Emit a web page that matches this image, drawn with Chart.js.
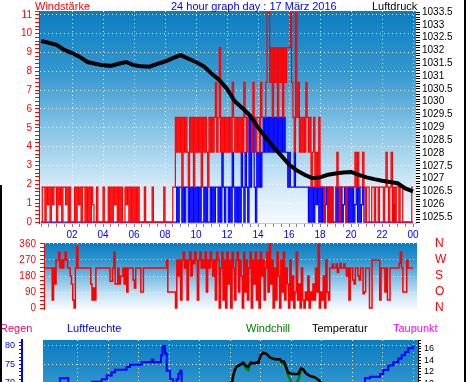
<!DOCTYPE html>
<html>
<head>
<meta charset="utf-8">
<title>24 hour graph 17 März 2016</title>
<script src="https://cdn.jsdelivr.net/npm/chart.js@4.4.0/dist/chart.umd.min.js"></script>
<style>
  html, body { margin: 0; padding: 0; background: #fff; overflow: hidden; }
  body { width: 470px; height: 382px; position: relative; font-family: "Liberation Sans", Arial, sans-serif; }
  canvas { position: absolute; left: 0; }
  .lbl { position: absolute; font-size: 11px; line-height: 11px; white-space: nowrap; z-index: 2; }
  .frame { position: absolute; background: #000; z-index: 3; }
</style>
</head>
<body>
<div class="lbl" style="left:35px;top:1px;color:#ff0000">Windstärke</div>
<div class="lbl" style="left:171px;top:1px;color:#0000ff">24 hour graph day : 17 März 2016</div>
<div class="lbl" style="left:372px;top:1px;color:#000">Luftdruck</div>

<div class="lbl" style="left:0;top:323px;color:#ff0066">Regen</div>
<div class="lbl" style="left:67px;top:323px;color:#0000ff">Luftfeuchte</div>
<div class="lbl" style="left:246px;top:323px;color:#008000">Windchill</div>
<div class="lbl" style="left:312px;top:323px;color:#000">Temperatur</div>
<div class="lbl" style="left:393px;top:323px;color:#ff00ff">Taupunkt</div>

<div class="frame" style="left:464px;top:0;width:2px;height:382px"></div>
<div class="frame" style="left:0;top:185px;width:2px;height:197px"></div>

<canvas id="windChart" width="470" height="245" style="top:0"></canvas>
<canvas id="dirChart" width="470" height="80" style="top:238px"></canvas>
<canvas id="climaChart" width="470" height="200" style="top:318px"></canvas>

<script>
// 5 minute samples, 12 per hour, wind in knots
const gustKnots = [
  0,1,1,0,1,0.5,1,0,1,0.5,1,1,
  0,1,0.5,1,0,1,1,0.5,1,0,1,0,
  0,0,1,0,1,0.5,1,0,1,1,0,1,
  0,1,0,1,0.5,0,0,1,0,0,0,0,
  1,0,0,0,1,0,1,0,1,0.5,1,0,
  1,0,1,0,0,1,0.5,1,0,1,0,1,
  0,1,0,1,0,0,0,0,1,0,0,0,
  0,0,1,0,0,0,0,0,0,0,0,1,
  0,0,0,0,0,0,1,1,3,2,3,2,
  3,1,3,2,3,2,1,3,2,3,1,3,
  2,3,2,3,1,3,2,3,2,1,3,2,
  3,2,3,4,2,3,5,2,3,2,3,2,
  3,2,3,2,4,3,2,3,2,3,2,3,
  2,4,3,2,3,3,3,2,4,3,2,3,
  3,2,4,3,3,3,4,6,6,4,5,3,
  5,4,5,3,5,4,5,3,5,4,5,5,
  5,6,4,3,2,6,3,4,2,3,2,3,
  2,4,3,2,3,1,2,3,1,2,1,3,
  1,1,1,0,1,1,0,1,0,1,0,0,
  1,2,1,0,1,1,1,1,0,1,1,1,
  1,1,1,2,1,2,1,1,1,2,1,0,
  1,1,0,0,1,1,0,1,1,0,1,1,
  1,0,1,2,1,0,1,2,0,1,0,1,
  1,0,1,1,0,0,0,0,0,0,0,1
];

const avgKnots = [
  0,0,0,0,0,0,0,0,0,0,0,0,
  0,0,0,0,0,0,0,0,0,0,0,0,
  0,0,0,0,0,0,0,0,0,0,0,0,
  0,0,0,0,0,0,0,0,0,0,0,0,
  0,0,0,0,0,0,0,0,0,0,0,0,
  0,0,0,0,0,0,0,0,0,0,0,0,
  0,0,0,0,0,0,0,0,0,0,0,0,
  0,0,0,0,0,0,0,0,0,0,0,0,
  0,0,0,0,0,0,0,0,0,1,0,1,
  1,0,1,0,1,1,0,1,0,1,0,1,
  0,1,0,1,0,0,1,0,1,0,0,1,
  0,1,0,1,1,0,1,0,2,1,0,1,
  1,0,1,0,2,1,0,1,0,1,0,2,
  1,0,2,1,0,3,1,2,3,1,0,2,
  1,2,1,2,3,2,3,2,3,2,3,2,
  3,2,3,2,3,2,3,2,3,2,2,1,
  2,1,1,1,2,1,1,1,1,1,1,1,
  1,1,1,0,1,0,1,0,1,0.5,1,0,
  1,0,1,0,0.5,1,0,1,0,1,0,0,
  1,0,1,0,1,0,0.5,1,0,1,0,1,
  0,1,0,0.5,1,0,1,0,0.5,1,0,0,
  0,0,0,0,0,0,0,0,0,0,0,0,
  0,0,0,0,0,0,0,0,0,0.5,0,0,
  0,0,0,0,0,0,0,0,0,0,0,0
];

// wind direction in degrees, same 5 minute samples
const dirDegrees = [
  225,225,225,225,225,225,225,45,225,135,270,270,
  315,225,270,225,270,315,270,225,225,180,135,45,
  0,225,345,225,225,225,225,225,225,225,225,225,
  225,135,45,112,45,225,225,225,225,225,225,225,
  225,225,225,225,150,150,225,315,135,135,225,135,
  180,180,225,135,225,90,225,225,225,225,157,112,
  225,225,225,225,90,90,225,225,225,225,225,225,
  225,225,225,225,225,225,225,225,225,225,225,225,
  270,90,90,90,90,90,90,0,270,180,270,45,
  270,315,225,270,45,270,315,180,270,250,315,270,
  45,270,315,225,270,225,315,90,270,225,315,270,
  180,270,45,315,270,0,225,315,45,270,0,315,
  135,270,0,315,225,45,270,315,90,270,180,0,
  315,90,270,45,225,315,0,270,135,315,45,270,
  0,315,180,270,45,225,315,90,360,135,270,0,
  225,45,315,180,0,270,90,315,45,225,135,0,
  270,45,180,0,90,315,45,135,0,225,45,0,
  90,45,180,0,90,45,135,45,225,90,360,0,
  90,45,180,0,270,90,45,225,225,247,225,225,
  247,200,225,250,225,225,247,225,180,225,45,225,
  225,157,135,225,225,180,157,225,225,80,90,225,
  225,225,0,0,270,270,270,270,270,270,45,225,
  225,225,90,225,45,45,225,225,225,225,225,225,
  225,250,315,225,90,90,90,270,225,225,225,225
];

// air pressure every half hour, hPa
const pressureHpa = [
  1032.37, 1032.30, 1032.22, 1032.02, 1031.90, 1031.75, 1031.55, 1031.48,
  1031.42, 1031.40, 1031.48, 1031.55, 1031.42, 1031.38, 1031.37, 1031.48,
  1031.57, 1031.70, 1031.82, 1031.68, 1031.55, 1031.38, 1031.10, 1030.85,
  1030.50, 1030.02, 1029.75, 1029.45, 1029.00, 1028.60, 1028.23, 1027.90,
  1027.55, 1027.32, 1027.15, 1027.02, 1027.05, 1027.15, 1027.20, 1027.24,
  1027.26, 1027.15, 1027.05, 1026.98, 1026.92, 1026.87, 1026.82, 1026.62,
  1026.50
];

// lower panel, hour of day and value
const humidityHours = [0, 0.83, 1.38, 2.95, 3.57, 3.9, 4.22, 4.44, 5.2, 5.42, 6.19, 6.85, 6.95, 7.46, 7.55,
  7.6, 7.72, 7.83, 8.05, 8.26, 8.48, 8.6, 8.7, 8.81, 10, 14, 18, 20.5, 20.83, 21.16, 21.82, 22.03,
  22.36, 22.69, 23.02, 23.24, 23.46, 23.67, 24];
const humidity = [66, 71.3, 67, 70.3, 71, 72, 72.9, 73.6, 74.3, 74.9, 75.6, 76.3, 75.6, 77.5, 79.4,
  80, 78, 73.3, 71, 68, 71, 72.5, 73.3, 69, 66, 60, 62, 68, 71.3, 71.7, 72.4, 73.5,
  74.7, 75.6, 76.6, 77.5, 78.4, 79.4, 80.3];

const tempHours = [0, 6, 11, 12.13, 12.2, 12.3, 12.42, 12.64, 12.85, 13.03, 13.18, 13.34, 13.5, 13.84,
  14.0, 14.16, 14.39, 14.6, 14.93, 15.26, 15.37, 15.52, 15.65, 15.8, 16.13, 16.46, 16.64, 16.79,
  16.96, 17.22, 17.55, 17.84, 17.99, 20, 24];
const temperature = [6, 4.5, 9, 10.2, 11.4, 12.3, 12.9, 13.2, 13.6, 13.0, 12.9, 13.6, 13.5, 13.6,
  14.9, 15.35, 15.1, 14.5, 14.2, 14.2, 13.8, 13.8, 12.9, 11.8, 11.6, 11.6, 12.6, 12.4,
  11.7, 11.25, 11.0, 10.4, 10.0, 8, 6];
const windchill = [6, 4.5, 9, 10.2, 11.4, 12.3, 12.9, 13.2, 13.6, 12.6, 12.3, 13.6, 13.5, 13.6,
  14.9, 15.35, 15.1, 14.5, 14.2, 14.2, 13.5, 13.4, 12.9, 11.3, 9.4, 10.5, 12.3, 12.4,
  11.7, 11.25, 11.0, 10.4, 10.0, 8, 6];

const hourTicks = ['02', '04', '06', '08', '10', '12', '14', '16', '18', '20', '22', '00'];
const compassTicks = { 0: 'N', 90: 'O', 180: 'S', 270: 'W', 360: 'N' };

const KMH_PER_KNOT = 1.852;
const SAMPLE_HOURS = 5 / 60;
const FONT = '"Liberation Sans", Arial, sans-serif';
const GRID_DOTS = 'rgba(255,255,255,0.85)';

// true when v is (almost) a multiple of m
const isMult = (v, m) => Math.abs(v / m - Math.round(v / m)) < 1e-6;

// sample-and-hold points, the last value is held to midnight
function stepPoints(values, scale) {
  const pts = values.map((v, i) => ({ x: i * SAMPLE_HOURS, y: v * scale }));
  pts.push({ x: 24, y: values[values.length - 1] * scale });
  return pts;
}

const pairs = (xs, ys) => xs.map((x, i) => ({ x: x, y: ys[i] }));

// fixed axis sizes, so the plot areas sit where the original ones do
const fixWidth = w => s => { s.width = w; s.paddingTop = 0; s.paddingBottom = 0; };
const fixHeight = h => s => { s.height = h; s.paddingLeft = 0; s.paddingRight = 0; };

// gradient behind each plot area
const panelBackground = {
  id: 'panelBackground',
  beforeDraw(chart) {
    const { ctx, chartArea: a } = chart;
    const g = ctx.createLinearGradient(0, a.top, 0, a.bottom);
    g.addColorStop(0, '#0a7dc1');
    g.addColorStop(0.3, '#3799d0');
    g.addColorStop(0.55, '#84c3e5');
    g.addColorStop(0.8, '#cde6f6');
    g.addColorStop(1, '#f6fafe');
    ctx.save();
    ctx.fillStyle = g;
    ctx.fillRect(a.left, a.top, a.right - a.left, a.bottom - a.top);
    ctx.restore();
  }
};

Chart.defaults.font.family = FONT;
Chart.defaults.animation = false;
Chart.defaults.responsive = false;
Chart.defaults.plugins.legend.display = false;
Chart.defaults.plugins.tooltip.enabled = false;

// ---- wind and pressure ----
new Chart(document.getElementById('windChart'), {
  type: 'line',
  data: {
    datasets: [{
      data: pairs(pressureHpa.map((_, i) => i * 0.5), pressureHpa),
      yAxisID: 'yP',
      borderColor: '#000',
      borderWidth: 4,
      pointRadius: 0
    }, {
      data: stepPoints(gustKnots, KMH_PER_KNOT),
      borderColor: '#ff0000',
      borderWidth: 1.2,
      stepped: true,
      pointRadius: 0
    }, {
      data: stepPoints(avgKnots, KMH_PER_KNOT),
      borderColor: '#0000ff',
      borderWidth: 1.2,
      stepped: true,
      pointRadius: 0
    }]
  },
  options: {
    layout: { padding: { top: 11 } },
    scales: {
      x: {
        type: 'linear', min: -0.13, max: 24.19,
        afterFit: fixHeight(22),
        ticks: {
          stepSize: 0.5, autoSkip: false, maxRotation: 0, includeBounds: false,
          color: '#0000ff', font: { size: 10 }, padding: 2,
          callback: v => (isMult(v, 2) && v > 0) ? hourTicks[v / 2 - 1] : ''
        },
        grid: {
          color: c => (c.tick && isMult(c.tick.value, 2) && c.tick.value > 0) ? GRID_DOTS : 'transparent',
          tickColor: '#808080', tickLength: 4
        },
        border: { color: '#c8c8c8', dash: [1, 3] }
      },
      y: {
        min: -0.05, max: 11.2,
        afterFit: fixWidth(39),
        ticks: {
          stepSize: 0.2, autoSkip: false, includeBounds: false,
          color: '#ff0000', font: { size: 10 }, padding: 3,
          callback: v => isMult(v, 1) ? String(Math.round(v)) : ''
        },
        grid: {
          color: c => (c.tick && isMult(c.tick.value, 1) && c.tick.value > 0) ? GRID_DOTS : 'transparent',
          tickColor: '#ff0000', tickLength: 4
        },
        border: { color: '#ff0000', dash: [1, 3] }
      },
      yP: {
        position: 'right', min: 1025.27, max: 1033.54,
        afterFit: fixWidth(54),
        ticks: {
          stepSize: 0.1, autoSkip: false, includeBounds: false,
          color: '#000', font: { size: 10 }, padding: 2,
          callback: v => isMult(v, 0.5) ? (isMult(v, 1) ? String(Math.round(v)) : v.toFixed(1)) : ''
        },
        grid: { drawOnChartArea: false, tickColor: '#000', tickLength: 4 },
        border: { display: false }
      }
    }
  },
  plugins: [panelBackground]
});

// ---- wind direction ----
new Chart(document.getElementById('dirChart'), {
  type: 'line',
  data: {
    datasets: [{
      data: stepPoints(dirDegrees, 1),
      borderColor: '#ff0000',
      borderWidth: 1.5,
      stepped: true,
      pointRadius: 0
    }]
  },
  options: {
    layout: { padding: { top: 5, bottom: 9 } },
    scales: {
      x: { type: 'linear', min: 0.05, max: 24.25, display: false },
      y: {
        min: -5.6, max: 365.6,
        afterFit: fixWidth(44),
        ticks: {
          stepSize: 22.5, autoSkip: false, includeBounds: false,
          color: '#ff0000', font: { size: 10 }, padding: 4,
          callback: v => isMult(v, 90) ? String(Math.round(v)) : ''
        },
        grid: {
          color: c => (c.tick && isMult(c.tick.value, 90) && c.tick.value > 0) ? GRID_DOTS : 'transparent',
          tickColor: '#ff0000', tickLength: 4
        },
        border: { color: '#ff0000', dash: [1, 3] }
      },
      yDir: {
        position: 'right', min: -5.6, max: 365.6,
        afterFit: fixWidth(53),
        ticks: {
          stepSize: 90, autoSkip: false, includeBounds: false,
          color: '#ff0000', font: { size: 12 }, padding: 0,
          callback: v => compassTicks[Math.round(v)]
        },
        grid: { drawOnChartArea: false, tickColor: 'transparent', tickLength: 18 },
        border: { display: false }
      }
    }
  },
  plugins: [panelBackground]
});

// ---- humidity, temperature, windchill ----
new Chart(document.getElementById('climaChart'), {
  type: 'line',
  data: {
    datasets: [{
      data: pairs(tempHours, temperature),
      yAxisID: 'yT',
      borderColor: '#000',
      borderWidth: 2.5,
      pointRadius: 0
    }, {
      data: pairs(tempHours, windchill),
      yAxisID: 'yT',
      borderColor: '#008000',
      borderWidth: 2.5,
      pointRadius: 0
    }, {
      data: pairs(humidityHours, humidity),
      yAxisID: 'yH',
      borderColor: '#0000ff',
      borderWidth: 2,
      stepped: true,
      pointRadius: 0
    }]
  },
  options: {
    layout: { padding: { top: 22 } },
    scales: {
      x: {
        type: 'linear', min: -0.28, max: 24.31,
        afterFit: fixHeight(0),
        ticks: { stepSize: 2, display: false, includeBounds: false },
        grid: {
          color: c => (c.tick && c.tick.value > 0) ? GRID_DOTS : 'transparent',
          drawTicks: false
        },
        border: { display: false, dash: [1, 3] }
      },
      yH: {
        position: 'left', weight: 2, min: 33.5, max: 81.62,
        afterFit: fixWidth(22),
        ticks: {
          stepSize: 1, autoSkip: false, includeBounds: false,
          color: '#0000ff', font: { size: 9 }, padding: 4,
          callback: v => isMult(v, 5) ? String(Math.round(v)) : ''
        },
        grid: {
          color: c => (c.tick && isMult(c.tick.value, 5)) ? GRID_DOTS : 'transparent',
          tickColor: '#0000ff', tickLength: 3
        },
        border: { color: '#0000ff', width: 2, dash: [1, 3] }
      },
      yR: {
        position: 'left', weight: 1, min: 0, max: 10,
        afterFit: fixWidth(21),
        ticks: { display: false },
        grid: { display: false },
        border: { display: false }
      },
      yT: {
        position: 'right', min: -13.75, max: 17.58,
        afterFit: fixWidth(52),
        ticks: {
          stepSize: 0.5, autoSkip: false, includeBounds: false,
          color: '#000', font: { size: 9 }, padding: 3,
          callback: v => isMult(v, 2) ? String(Math.round(v)) : ''
        },
        grid: { drawOnChartArea: false, tickColor: '#000', tickLength: 3 },
        border: { color: '#000' }
      }
    }
  },
  plugins: [panelBackground]
});
</script>
</body>
</html>
